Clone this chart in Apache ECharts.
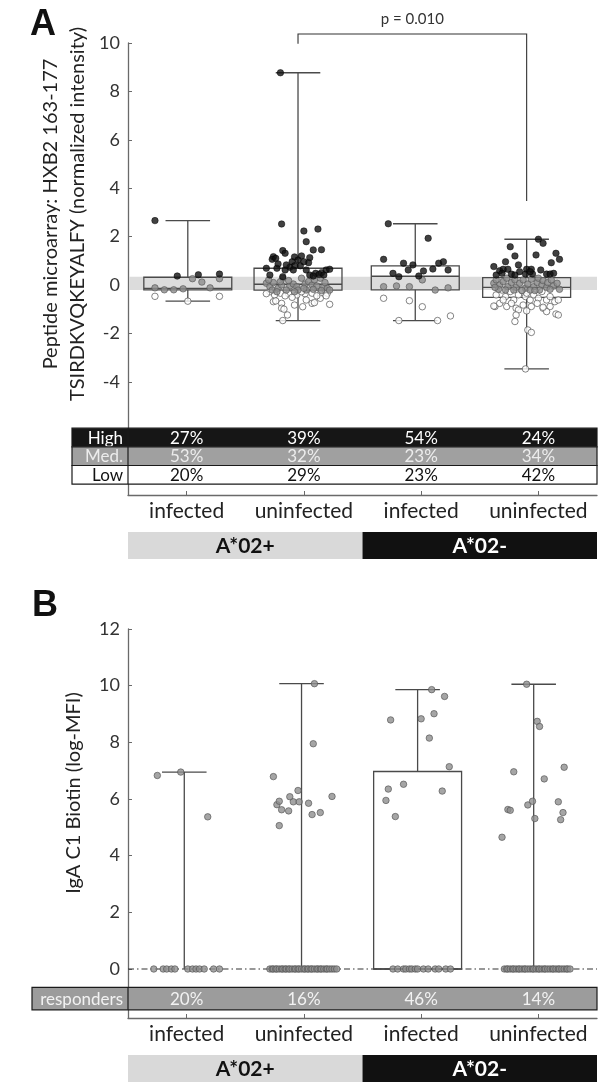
<!DOCTYPE html>
<html><head><meta charset="utf-8">
<script src="https://cdn.jsdelivr.net/npm/echarts@6/dist/echarts.min.js"></script>
<style>html,body{margin:0;padding:0;background:#fff}#c{width:604px;height:1083px}</style>
</head><body><div id="c"></div>
<script>
// ---------- shared ----------
const categories = ['infected', 'uninfected', 'infected', 'uninfected'];
const hlaGroups = ['A*02+', 'A*02-'];
const yTicksA = [-4, -2, 0, 2, 4, 6, 8, 10];
const yTicksB = [0, 2, 4, 6, 8, 10, 12];

// ---------- panel A ----------
// [center, lowWhisker, q1, median, q3, highWhisker]
const boxA = [
  [0.51, -0.67, -0.20, -0.14, 0.32, 2.66],
  [1.45, -1.47, -0.21, 0.03, 0.69, 8.77],
  [2.45, -1.47, -0.20, 0.36, 0.79, 2.53],
  [3.40, -3.47, -0.51, -0.10, 0.30, 1.89]
];
const bandA = [[-0.21, 0.34]];
const highA = [
  [0.23,2.66],[0.42,0.37],[0.60,0.42],[0.78,0.45],
  [1.31,2.52],[1.50,2.23],[1.62,2.31],[1.52,1.79],[1.65,1.46],[1.58,1.45],[1.32,1.42],[1.34,1.31],[1.24,1.17],[1.23,1.06],
  [1.26,1.10],[1.42,1.16],[1.48,1.20],[1.45,1.03],[1.55,1.13],[1.40,0.96],[1.47,0.79],[1.54,0.92],[1.42,0.79],[1.18,0.69],
  [1.27,0.69],[1.38,0.73],[1.34,0.62],[1.41,0.62],[1.60,0.48],[1.65,0.51],[1.63,0.43],[1.69,0.62],[1.72,0.65],[1.21,0.41],
  [1.32,0.34],[1.55,0.41],[1.58,0.37],[1.28,0.87],[1.50,0.96],[1.67,0.41],[1.35,0.83],[1.30,8.77],[1.52,0.62],
  [2.22,2.53],[2.56,1.93],[2.18,1.06],[2.35,0.90],[2.43,0.83],[2.26,0.48],[2.31,0.34],[2.39,0.62],[2.48,0.37],[2.52,0.58],
  [2.60,0.66],[2.65,0.90],[2.69,0.96],[2.73,0.62],
  [3.50,1.89],[3.54,1.72],[3.26,1.58],[3.65,1.31],[3.68,1.06],[3.48,1.24],[3.30,1.20],[3.22,0.96],[3.61,0.92],[3.33,0.83],
  [3.12,0.76],[3.17,0.59],[3.20,0.65],[3.24,0.65],[3.27,0.45],[3.34,0.55],[3.40,0.65],[3.44,0.65],[3.52,0.62],[3.57,0.45],
  [3.60,0.45],[3.63,0.48],[3.39,0.45],[3.45,0.45],[3.14,0.41],[3.19,0.48],[3.30,0.41],[3.43,0.55]
];
const medA = [
  [0.55,0.26],[0.63,0.12],[0.78,0.26],[0.23,-0.12],[0.31,-0.20],[0.39,-0.20],[0.47,-0.16],[0.70,-0.12],
  [1.18,0.07],[1.21,-0.07],[1.24,0.10],[1.23,-0.21],[1.28,-0.14],[1.32,0.28],[1.31,0.00],[1.38,-0.04],[1.41,0.04],[1.44,-0.07],
  [1.48,0.28],[1.51,0.04],[1.54,0.14],[1.57,0.00],[1.59,0.21],[1.64,0.28],[1.61,-0.04],[1.67,-0.07],[1.70,-0.14],[1.72,-0.21],
  [1.27,-0.28],[1.35,-0.21],[1.45,-0.21],[1.52,-0.21],[1.20,0.21],[1.37,0.18],[1.50,-0.14],[1.58,-0.18],[1.68,0.10],[1.30,0.14],
  [1.42,-0.28],[1.65,-0.23],
  [2.18,-0.07],[2.29,-0.04],[2.40,-0.07],[2.51,0.21],[2.62,-0.21],[2.73,-0.12],
  [3.12,0.07],[3.14,0.21],[3.17,0.00],[3.20,0.14],[3.23,0.28],[3.24,-0.07],[3.27,0.10],[3.30,0.21],[3.31,-0.10],[3.34,0.07],
  [3.37,0.21],[3.39,-0.14],[3.41,0.04],[3.44,0.24],[3.46,-0.07],[3.49,0.10],[3.50,0.28],[3.53,0.00],[3.54,0.18],[3.57,-0.10],
  [3.58,0.10],[3.61,0.21],[3.63,-0.04],[3.66,0.07],[3.68,-0.18],[3.16,-0.18],[3.22,-0.21],[3.29,-0.21],[3.36,-0.23],[3.43,-0.21],
  [3.51,-0.21],[3.60,-0.18],[3.13,-0.10],[3.47,-0.23]
];
const lowA = [
  [0.23,-0.47],[0.51,-0.67],[0.78,-0.47],
  [1.21,-0.28],[1.25,-0.41],[1.30,-0.34],[1.37,-0.36],[1.44,-0.41],[1.51,-0.36],[1.57,-0.34],[1.64,-0.36],[1.70,-0.34],
  [1.24,-0.69],[1.31,-0.76],[1.52,-0.62],[1.57,-0.76],[1.64,-0.55],[1.42,-0.83],[1.49,-0.90],[1.72,-0.80],[1.31,-0.96],
  [1.33,-1.00],[1.36,-1.24],[1.32,-1.47],[1.26,-0.66],[1.59,-0.73],[1.69,-0.45],[1.18,-0.36],[1.40,-0.51],[1.61,-0.45],
  [1.48,-0.28],[1.34,-0.45],
  [2.18,-0.55],[2.40,-0.65],[2.51,-0.90],[2.31,-1.47],[2.64,-1.47],[2.75,-1.28],
  [3.14,-0.41],[3.19,-0.21],[3.22,-0.48],[3.26,-0.27],[3.29,-0.62],[3.33,-0.41],[3.36,-0.23],[3.39,-0.48],[3.43,-0.62],
  [3.46,-0.41],[3.50,-0.55],[3.53,-0.27],[3.57,-0.62],[3.60,-0.48],[3.64,-0.69],[3.67,-0.62],[3.13,-0.89],[3.17,-0.76],
  [3.23,-0.89],[3.27,-0.76],[3.31,-0.96],[3.37,-0.83],[3.44,-0.89],[3.49,-0.76],[3.54,-0.96],[3.60,-0.89],[3.20,-0.62],
  [3.40,-0.34],[3.33,-1.03],[3.31,-1.24],[3.30,-1.51],[3.40,-1.07],[3.41,-1.86],[3.44,-1.96],[3.57,-1.10],[3.65,-1.20],
  [3.67,-1.24],[3.39,-3.47],[3.12,-0.87],[3.54,-0.92]
];
const tableLabelsA = ['High', 'Med.', 'Low'];
const highPct = ['27%', '39%', '54%', '24%'];
const medPct = ['53%', '32%', '23%', '34%'];
const lowPct = ['20%', '29%', '23%', '42%'];
const pLabel = 'p = 0.010';
// [fromCenter, toCenter, topY, leftEndY, rightEndY]
const bracketA = [[1.45, 3.40, 10.37, 9.97, 3.47]];

// ---------- panel B ----------
const boxB = [
  [0.48, 0, 0, 0, 0, 6.95],
  [1.48, 0, 0, 0, 0, 10.07],
  [2.47, 0, 0, 0, 6.97, 9.86],
  [3.46, 0, 0, 0, 0, 10.05]
];
const respondersB = [
  [0.25,6.83],[0.45,6.95],[0.68,5.37],
  [1.24,6.79],[1.27,5.80],[1.29,5.92],[1.31,5.62],[1.29,5.06],[1.37,5.58],[1.38,6.08],[1.41,5.90],[1.45,6.30],[1.46,5.90],
  [1.54,5.85],[1.74,6.09],[1.57,5.45],[1.64,5.52],[1.58,7.95],[1.59,10.07],
  [2.59,9.86],[2.70,9.62],[2.24,8.79],[2.50,8.83],[2.61,9.01],[2.57,8.15],[2.74,7.14],[2.35,6.52],[2.22,6.35],[2.20,5.95],
  [2.28,5.38],[2.68,6.28],
  [3.40,10.05],[3.49,8.74],[3.51,8.56],[3.29,6.96],[3.72,7.12],[3.55,6.71],[3.24,5.63],[3.26,5.60],[3.41,5.79],[3.45,5.92],
  [3.67,5.90],[3.71,5.52],[3.47,5.31],[3.69,5.27],[3.19,4.65]
];
const zeroXB = [
  0.22,0.30,0.33,0.37,0.40,0.51,0.55,0.58,0.61,0.65,0.73,0.78,
  1.21,1.23,1.24,1.26,1.27,1.29,1.31,1.32,1.34,1.35,1.37,1.38,1.40,1.42,1.43,1.45,1.46,1.48,1.50,1.51,1.53,1.54,1.56,1.57,
  1.59,1.61,1.62,1.64,1.65,1.67,1.69,1.70,1.72,1.74,1.76,1.78,
  2.26,2.30,2.35,2.37,2.40,2.42,2.45,2.47,2.52,2.56,2.62,2.65,2.71,2.75,
  3.21,3.23,3.24,3.26,3.28,3.29,3.31,3.33,3.34,3.36,3.38,3.39,3.41,3.43,3.45,3.46,3.48,3.50,3.51,3.53,3.55,3.56,3.58,3.60,
  3.62,3.63,3.65,3.67,3.68,3.70,3.72,3.74,3.75,3.77
];
const responderLabel = 'responders';
const responderPct = ['20%', '16%', '46%', '14%'];

// ---------- rendering ----------
const FONT = 'Lato, "Open Sans", sans-serif';
const LINE = '#4a4a4a';
const AXIS = '#6a6a6a';
const yMinA = -8.68, yMaxA = 10, yMinB = -1.73, yMaxB = 12;

function boxRender(params, api) {
  const c = api.value(0), lo = api.value(1), q1 = api.value(2), med = api.value(3), q3 = api.value(4), hi = api.value(5);
  const half = 0.375, cap = 0.19;
  const st = { stroke: LINE, lineWidth: 1.3, fill: null };
  const ch = [];
  const line = (x1, y1, x2, y2) => {
    const a = api.coord([x1, y1]), b = api.coord([x2, y2]);
    ch.push({ type: 'line', shape: { x1: a[0], y1: a[1], x2: b[0], y2: b[1] }, style: st });
  };
  if (hi > q3) { line(c, q3, c, hi); line(c - cap, hi, c + cap, hi); }
  if (lo < q1) { line(c, q1, c, lo); line(c - cap, lo, c + cap, lo); }
  if (q3 > q1) {
    const p = api.coord([c - half, q3]), r = api.coord([c + half, q1]);
    ch.push({ type: 'rect', shape: { x: p[0], y: p[1], width: r[0] - p[0], height: r[1] - p[1] }, style: st });
    line(c - half, med, c + half, med);
  }
  return { type: 'group', children: ch };
}

function tableRender(rows, labelW, yTop, rowH) {
  return function (params, api) {
    const i = params.dataIndex, row = rows[i];
    const y0 = api.coord([0, yTop - i * rowH])[1];
    const y1 = api.coord([0, yTop - (i + 1) * rowH])[1];
    const x0 = api.coord([0, 0])[0], x1 = api.coord([4, 0])[0];
    const ym = (y0 + y1) / 2 + 0.5;
    const ch = [
      { type: 'rect', shape: { x: x0 - labelW, y: y0, width: x1 - x0 + labelW, height: y1 - y0 }, style: { fill: row.bg, stroke: '#1a1a1a', lineWidth: 1.2 } },
      { type: 'line', shape: { x1: x0, y1: y0, x2: x0, y2: y1 }, style: { stroke: '#1a1a1a', lineWidth: 1.2 } },
      { type: 'text', style: { text: row.label, x: x0 - 5, y: ym, align: 'right', verticalAlign: 'middle', fill: row.fg, font: '17px ' + FONT } }
    ];
    row.values.forEach((v, k) => {
      const p = api.coord([k + 0.5, 0]);
      ch.push({ type: 'text', style: { text: v, x: p[0], y: ym, align: 'center', verticalAlign: 'middle', fill: row.fg, font: '17px ' + FONT } });
    });
    return { type: 'group', children: ch };
  };
}

function groupRender(yMin) {
  const styles = [{ bg: '#d9d9d9', fg: '#111' }, { bg: '#111111', fg: '#fff' }];
  return function (params, api) {
    const i = params.dataIndex;
    const a = api.coord([api.value(0), yMin]), b = api.coord([api.value(1), yMin]);
    const top = a[1] + 37, h = 27;
    return { type: 'group', children: [
      { type: 'rect', shape: { x: a[0], y: top, width: b[0] - a[0], height: h }, style: { fill: styles[i].bg } },
      { type: 'text', style: { text: hlaGroups[i], x: (a[0] + b[0]) / 2, y: top + h / 2 + 1, align: 'center', verticalAlign: 'middle', fill: styles[i].fg, font: 'bold 21px ' + FONT } }
    ] };
  };
}

function xAxisCfg(grid) {
  return {
    type: 'value', gridIndex: grid, min: 0, max: 4,
    axisLine: { onZero: false, lineStyle: { color: AXIS, width: 1.3 } },
    splitLine: { show: false },
    axisTick: { inside: true, length: 4, customValues: [0.5, 1.5, 2.5, 3.5], lineStyle: { color: AXIS } },
    axisLabel: { customValues: [0.5, 1.5, 2.5, 3.5], formatter: v => categories[Math.floor(v)], fontSize: 21, fontFamily: FONT, color: '#222', margin: 6 }
  };
}
function yAxisCfg(grid, min, max, ticks) {
  return {
    type: 'value', gridIndex: grid, min: min, max: max,
    axisLine: { show: true, onZero: false, lineStyle: { color: AXIS, width: 1.3 } },
    splitLine: { show: false },
    axisTick: { show: true, inside: true, length: 4, customValues: ticks, lineStyle: { color: AXIS } },
    axisLabel: { customValues: ticks, fontSize: 18, fontFamily: FONT, color: '#333', margin: 8 }
  };
}

const rowsA = [
  { label: tableLabelsA[0], values: highPct, bg: '#161616', fg: '#ffffff' },
  { label: tableLabelsA[1], values: medPct, bg: '#a0a0a0', fg: '#ececec' },
  { label: tableLabelsA[2], values: lowPct, bg: '#ffffff', fg: '#111111' }
];
const rowsB = [{ label: responderLabel, values: responderPct, bg: '#9c9c9c', fg: '#f2f2f2' }];

const pointStyle = {
  high: { color: '#111', borderColor: '#000', borderWidth: 0.6 },
  med: { color: '#8d8d8d', borderColor: '#555', borderWidth: 0.8 },
  low: { color: '#fff', borderColor: '#555', borderWidth: 0.9 },
  b: { color: '#8f8f8f', borderColor: '#505050', borderWidth: 0.8 }
};

const option = {
  animation: false,
  backgroundColor: '#fff',
  grid: [
    { left: 128, top: 43, width: 469, height: 452 },
    { left: 128, top: 629, width: 469, height: 389 }
  ],
  xAxis: [xAxisCfg(0), xAxisCfg(1)],
  yAxis: [yAxisCfg(0, yMinA, yMaxA, yTicksA), yAxisCfg(1, yMinB, yMaxB, yTicksB)],
  graphic: [
    { type: 'text', left: 30, top: 7, style: { text: 'A', font: 'bold 36px "Liberation Sans", Arial, sans-serif', fill: '#111' } },
    { type: 'text', left: 32, top: 588, style: { text: 'B', font: 'bold 36px "Liberation Sans", Arial, sans-serif', fill: '#111' } },
    { type: 'text', x: 64, y: 214, rotation: Math.PI / 2,
      style: { text: 'Peptide microarray: HXB2 163-177\nTSIRDKVQKEYALFY (normalized intensity)', align: 'center', verticalAlign: 'middle', font: '20px ' + FONT, lineHeight: 27, fill: '#222' } },
    { type: 'text', x: 74, y: 793, rotation: Math.PI / 2,
      style: { text: 'IgA C1 Biotin (log-MFI)', align: 'center', verticalAlign: 'middle', font: '20px ' + FONT, fill: '#222' } }
  ],
  series: [
    // ---- A ----
    { type: 'custom', xAxisIndex: 0, yAxisIndex: 0, silent: true, z: 1, data: bandA,
      renderItem: (p, api) => {
        const a = api.coord([0, api.value(1)]), b = api.coord([4, api.value(0)]);
        return { type: 'rect', shape: { x: a[0] + 1, y: a[1], width: b[0] - a[0] - 1, height: b[1] - a[1] }, style: { fill: '#dcdcdc' } };
      } },
    { type: 'custom', xAxisIndex: 0, yAxisIndex: 0, silent: true, z: 2, data: boxA, renderItem: boxRender },
    { type: 'scatter', xAxisIndex: 0, yAxisIndex: 0, silent: true, z: 3, symbolSize: 6.5, data: lowA, itemStyle: pointStyle.low },
    { type: 'scatter', xAxisIndex: 0, yAxisIndex: 0, silent: true, z: 3, symbolSize: 6.5, data: medA, itemStyle: pointStyle.med },
    { type: 'scatter', xAxisIndex: 0, yAxisIndex: 0, silent: true, z: 3, symbolSize: 6.5, data: highA, itemStyle: pointStyle.high },
    { type: 'custom', xAxisIndex: 0, yAxisIndex: 0, silent: true, z: 5, clip: false, data: [[0], [1], [2]],
      renderItem: tableRender(rowsA, 56, -5.92, 0.77) },
    { type: 'custom', xAxisIndex: 0, yAxisIndex: 0, silent: true, z: 5, clip: false, data: bracketA,
      renderItem: (p, api) => {
        const a = api.coord([api.value(0), api.value(2)]), b = api.coord([api.value(1), api.value(2)]);
        const l = api.coord([api.value(0), api.value(3)]), r = api.coord([api.value(1), api.value(4)]);
        return { type: 'group', children: [
          { type: 'polyline', shape: { points: [l, a, b, r] }, style: { stroke: '#333', lineWidth: 1.1, fill: null } },
          { type: 'text', style: { text: pLabel, x: (a[0] + b[0]) / 2, y: a[1] - 15, align: 'center', verticalAlign: 'middle', font: '15px ' + FONT, fill: '#333' } }
        ] };
      } },
    { type: 'custom', xAxisIndex: 0, yAxisIndex: 0, silent: true, z: 5, clip: false, data: [[0, 2], [2, 4]], renderItem: groupRender(yMinA) },
    // ---- B ----
    { type: 'custom', xAxisIndex: 1, yAxisIndex: 1, silent: true, z: 1, data: [[0, 4, 0]],
      renderItem: (p, api) => {
        const a = api.coord([api.value(0), api.value(2)]), b = api.coord([api.value(1), api.value(2)]);
        return { type: 'line', shape: { x1: a[0], y1: a[1], x2: b[0], y2: b[1] }, style: { stroke: '#333', lineWidth: 1.1, lineDash: [6, 3, 1.5, 3] } };
      } },
    { type: 'custom', xAxisIndex: 1, yAxisIndex: 1, silent: true, z: 2, data: boxB, renderItem: boxRender },
    { type: 'scatter', xAxisIndex: 1, yAxisIndex: 1, silent: true, z: 3, symbolSize: 6.5, data: zeroXB.map(x => [x, 0]), itemStyle: pointStyle.b },
    { type: 'scatter', xAxisIndex: 1, yAxisIndex: 1, silent: true, z: 3, symbolSize: 6.5, data: respondersB, itemStyle: pointStyle.b },
    { type: 'custom', xAxisIndex: 1, yAxisIndex: 1, silent: true, z: 5, clip: false, data: [[0]],
      renderItem: tableRender(rowsB, 96, -0.65, 0.79) },
    { type: 'custom', xAxisIndex: 1, yAxisIndex: 1, silent: true, z: 5, clip: false, data: [[0, 2], [2, 4]], renderItem: groupRender(yMinB) }
  ]
};
const chart = echarts.init(document.getElementById('c'));
chart.setOption(option);
</script>
</body></html>
